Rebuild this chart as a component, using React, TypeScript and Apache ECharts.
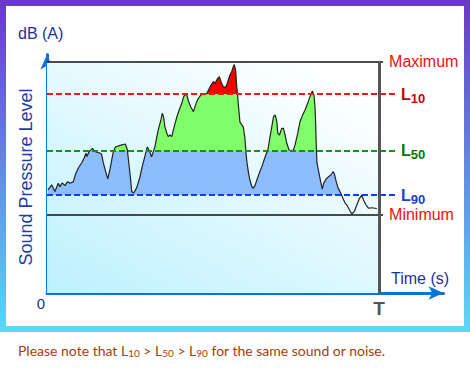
import React, { useEffect, useRef } from "react";
import * as echarts from "echarts";

// Time in arbitrary units, T = 100
const TIME = [
  0.3, 1.4, 2.4, 3.4, 3.9, 4.6, 5.4, 6.2, 6.9, 7.9,
  8.6, 9.4, 10.5, 11.2, 11.7, 12.0, 12.7, 13.7, 14.5, 15.7,
  16.4, 17.0, 17.7, 18.3, 19.0, 19.5, 20.0, 20.6, 22.0, 23.6,
  24.2, 24.7, 25.2, 25.5, 26.1, 27.0, 28.0, 28.5, 29.2, 29.8,
  30.2, 30.8, 31.5, 32.0, 32.5, 33.0, 33.5, 34.3, 34.7, 35.1,
  35.5, 36.1, 36.5, 37.0, 37.6, 38.0, 38.6, 39.1, 39.8, 40.6,
  41.1, 41.6, 42.1, 42.6, 43.3, 44.1, 44.9, 45.6, 46.3, 47.1,
  48.1, 49.1, 50.1, 50.6, 51.4, 51.9, 52.4, 53.1, 53.6, 54.1,
  54.6, 55.1, 55.6, 56.1, 56.4, 56.8, 57.1, 57.4, 57.6, 58.1,
  59.1, 59.6, 59.9, 60.2, 60.7, 61.1, 61.7, 62.1, 62.7, 63.2,
  63.9, 64.7, 65.7, 66.5, 67.1, 67.7, 68.2, 68.7, 69.2, 69.5,
  70.0, 70.7, 71.2, 71.7, 72.2, 72.9, 73.7, 74.2, 74.7, 75.5,
  76.2, 77.0, 77.7, 78.5, 79.2, 79.9, 80.4, 80.7, 80.9, 81.1,
  81.3, 81.9, 82.5, 82.9, 83.3, 84.0, 84.7, 85.5, 86.1, 86.5,
  87.1, 87.7, 88.5, 89.1, 89.8, 90.3, 91.1, 91.8, 92.5, 93.3,
  94.1, 94.8, 95.3, 96.1, 96.8, 97.8, 98.8, 99.3,
];

// Sound pressure level (relative units, Maximum = 100)
const SPL = [
  44.6, 46.8, 43.9, 47.5, 46.0, 47.7, 46.5, 48.2, 47.5, 48.1,
  51.5, 54.0, 56.5, 58.4, 60.5, 59.1, 61.2, 62.6, 61.2, 60.7,
  60.2, 56.1, 52.4, 49.4, 53.7, 57.6, 61.3, 63.2, 63.9, 64.5,
  61.9, 55.4, 48.9, 43.9, 43.3, 45.5, 50.2, 53.7, 57.6, 61.0,
  63.2, 61.7, 58.9, 61.2, 63.2, 67.0, 70.6, 74.9, 77.8, 76.3,
  72.0, 69.1, 67.7, 68.4, 67.7, 70.3, 73.5, 76.2, 79.2, 82.1,
  84.8, 86.0, 85.7, 83.1, 80.5, 78.5, 82.1, 84.3, 85.7, 86.2,
  86.3, 89.2, 91.5, 90.8, 92.9, 93.6, 91.5, 89.3, 88.9, 90.0,
  92.2, 94.4, 95.8, 98.0, 98.9, 96.5, 90.0, 85.7, 81.8, 74.0,
  71.9, 67.1, 61.0, 56.7, 51.8, 48.9, 46.0, 45.3, 46.8, 48.9,
  51.8, 54.7, 59.0, 61.9, 67.0, 72.0, 76.3, 77.1, 74.2, 69.1,
  68.4, 71.3, 71.3, 68.4, 64.8, 61.9, 61.6, 61.9, 64.1, 69.1,
  74.2, 77.1, 79.2, 82.1, 85.0, 87.4, 85.7, 80.5, 73.6, 63.2,
  56.3, 51.9, 47.6, 45.0, 47.5, 49.2, 50.3, 51.1, 52.5, 51.8,
  48.2, 45.3, 43.2, 41.0, 38.8, 38.1, 35.9, 34.2, 35.2, 38.1,
  41.0, 42.4, 40.3, 38.1, 36.7, 36.9, 36.7, 36.5,
];

const LEVEL_MAX = 100;
const LEVEL_L10 = 86.1;
const LEVEL_L50 = 61.5;
const LEVEL_L90 = 42.4;
const LEVEL_MIN = 34.0;
const T_END = 100;

const SOLID_END = 101.2;
const DASH_END = 104.8;

const FONT = "Liberation Sans, Arial, sans-serif";
const BLUE_FILL = "#8cbcfb";
const GREEN_FILL = "#80fd68";
const RED_FILL = "#f70000";
const AXIS_BLUE = "#0a74da";
const TITLE_BLUE = "#1c2f9c";

function subLabel(sub: string, color: string) {
  return {
    show: true,
    position: "end",
    distance: 6,
    formatter: "{L|L}{s|" + sub + "}",
    rich: {
      L: { fontSize: 16, lineHeight: 16, fontWeight: "bold", color, fontFamily: FONT },
      s: { fontSize: 13, lineHeight: 13, fontWeight: "bold", color, fontFamily: FONT, padding: [8, 0, 0, 0] },
    },
  };
}

function plainLabel(text: string) {
  return {
    show: true,
    position: "end",
    distance: 6,
    formatter: text,
    color: "#f01010",
    fontSize: 16,
    lineHeight: 16,
    fontFamily: FONT,
  };
}

export default function App() {
  const ref = useRef<HTMLDivElement>(null);

  useEffect(() => {
    if (!ref.current) return;
    const chart = echarts.init(ref.current, undefined, { renderer: "svg" });
    const data = TIME.map((t, i) => [t, SPL[i]]);

    const option: any = {
      animation: false,
      backgroundColor: "#ffffff",
      grid: { left: 47, right: 26.5, top: 54.6, bottom: 75, containLabel: false },
      xAxis: {
        type: "value",
        min: 0,
        max: 119.4,
        splitLine: { show: false },
        axisTick: { show: false },
        axisLine: {
          show: true,
          onZero: false,
          symbol: ["none", "arrow"],
          symbolSize: [10, 15],
          lineStyle: { color: AXIS_BLUE, width: 3 },
        },
        axisLabel: {
          show: true,
          customValues: [0, T_END],
          margin: 3,
          formatter: (v: number) => (v === T_END ? "{t|T}" : "{z|0}"),
          rich: {
            t: { fontSize: 19, fontWeight: "bold", color: "#555555", fontFamily: FONT, padding: [3, 0, 0, 0] },
            z: { fontSize: 15, color: TITLE_BLUE, fontFamily: FONT, padding: [0, 12, 0, 0] },
          },
        },
      },
      yAxis: {
        type: "value",
        min: 0,
        max: 103.2,
        splitLine: { show: false },
        axisTick: { show: false },
        axisLabel: { show: false },
        axisLine: {
          show: true,
          onZero: false,
          symbol: ["none", "arrow"],
          symbolSize: [10, 15],
          lineStyle: { color: AXIS_BLUE, width: 3 },
        },
      },
      visualMap: {
        type: "piecewise",
        show: false,
        dimension: 1,
        seriesIndex: 1,
        pieces: [
          { lt: LEVEL_L90, color: "rgba(0,0,0,0)" },
          { gte: LEVEL_L90, lt: LEVEL_L50, color: BLUE_FILL },
          { gte: LEVEL_L50, lt: LEVEL_L10, color: GREEN_FILL },
          { gte: LEVEL_L10, color: RED_FILL },
        ],
      },
      series: [
        {
          type: "line",
          data: [],
          z: 0,
          silent: true,
          markArea: {
            silent: true,
            itemStyle: {
              color: {
                type: "linear",
                x: 0,
                y: 1,
                x2: 0.8,
                y2: 0,
                colorStops: [
                  { offset: 0, color: "#bdf1fe" },
                  { offset: 1, color: "#ffffff" },
                ],
              },
            },
            data: [[{ coord: [0, 0] }, { coord: [T_END, LEVEL_MAX] }]],
          },
        },
        {
          type: "line",
          data,
          z: 2,
          silent: true,
          showSymbol: false,
          symbol: "none",
          lineStyle: { width: 0, opacity: 0 },
          areaStyle: { origin: LEVEL_L90, opacity: 1 },
        },
        {
          type: "line",
          data,
          z: 3,
          silent: true,
          clip: false,
          showSymbol: false,
          symbol: "none",
          lineStyle: { color: "#222222", width: 1.2 },
          markLine: {
            silent: true,
            symbol: "none",
            animation: false,
            data: [
              [
                { coord: [0, LEVEL_MAX], lineStyle: { color: "#111111", width: 1.5, type: "solid" }, label: plainLabel("Maximum") },
                { coord: [SOLID_END, LEVEL_MAX] },
              ],
              [
                { coord: [0, LEVEL_MIN], lineStyle: { color: "#111111", width: 1.5, type: "solid" }, label: plainLabel("Minimum") },
                { coord: [SOLID_END, LEVEL_MIN] },
              ],
              [
                { coord: [0, LEVEL_L10], lineStyle: { color: "#f01818", width: 2, type: [6, 3] }, label: subLabel("10", "#cc0000") },
                { coord: [DASH_END, LEVEL_L10] },
              ],
              [
                { coord: [0, LEVEL_L50], lineStyle: { color: "#129612", width: 2, type: [6, 3] }, label: subLabel("50", "#007a00") },
                { coord: [DASH_END, LEVEL_L50] },
              ],
              [
                { coord: [0, LEVEL_L90], lineStyle: { color: "#1040ee", width: 2, type: [6, 3] }, label: subLabel("90", "#1a3fcc") },
                { coord: [DASH_END, LEVEL_L90] },
              ],
              [
                { coord: [T_END, 0], lineStyle: { color: "#555555", width: 3, type: "solid" }, label: { show: false } },
                { coord: [T_END, LEVEL_MAX] },
              ],
            ],
          },
        },
      ],
      graphic: [
        {
          type: "rect",
          z: -100,
          silent: true,
          shape: { x: 0, y: 0, width: 470, height: 332 },
          style: {
            fill: {
              type: "linear",
              x: 0,
              y: 0,
              x2: 0,
              y2: 1,
              colorStops: [
                { offset: 0, color: "#6b38c8" },
                { offset: 1, color: "#5ad8f8" },
              ],
            },
          },
        },
        {
          type: "rect",
          z: -99,
          silent: true,
          shape: { x: 6, y: 6, width: 458, height: 320 },
          style: { fill: "#ffffff" },
        },
        {
          type: "text",
          x: 18,
          y: 33,
          style: { text: "dB (A)", fontSize: 16, fontFamily: FONT, fill: TITLE_BLUE, align: "left", verticalAlign: "middle" },
        },
        {
          type: "text",
          x: 26,
          y: 177,
          rotation: Math.PI / 2,
          style: { text: "Sound Pressure Level", fontSize: 18, fontFamily: FONT, fill: "#1f3ea6", align: "center", verticalAlign: "middle" },
        },
        {
          type: "text",
          x: 391,
          y: 278,
          style: { text: "Time (s)", fontSize: 16, fontFamily: FONT, fill: TITLE_BLUE, align: "left", verticalAlign: "middle" },
        },
        {
          type: "text",
          x: 18,
          y: 350,
          style: {
            text: "Please note that L{s|10} > L{s|50} > L{s|90} for the same sound or noise.",
            fontSize: 14,
            fontFamily: "Lato, sans-serif",
            fill: "#a3400c",
            align: "left",
            verticalAlign: "middle",
            rich: {
              s: { fontSize: 10, fontFamily: "Lato, sans-serif", fill: "#a3400c", padding: [6, 0, 0, 0] },
            },
          },
        },
      ],
    };

    chart.setOption(option);
    return () => chart.dispose();
  }, []);

  return (
    <div
      ref={ref}
      style={{ position: "fixed", left: 0, top: 0, width: 470, height: 368 }}
    />
  );
}
